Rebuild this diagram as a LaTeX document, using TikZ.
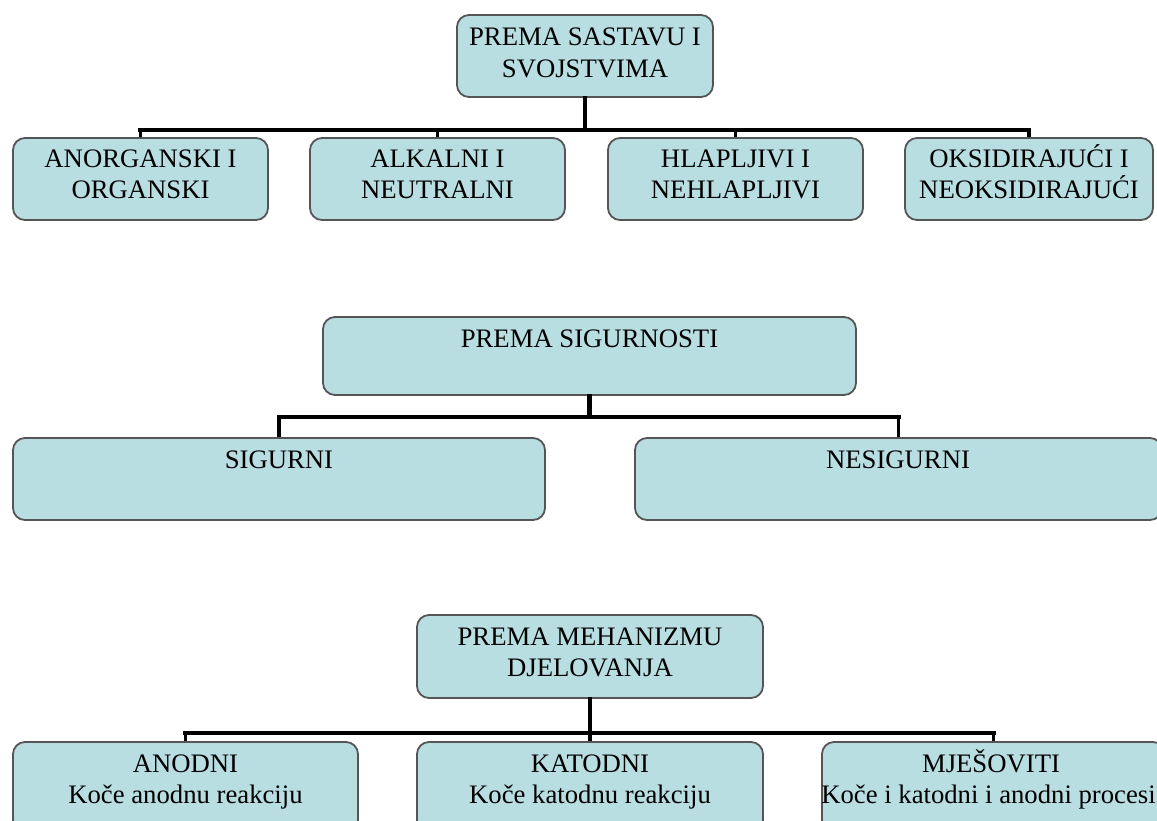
\documentclass[tikz,border=0pt]{standalone}
\usepackage{fontspec}
\setmainfont{Liberation Serif}
\usetikzlibrary{fit}
\definecolor{boxfill}{RGB}{184,222,226}
\definecolor{boxline}{RGB}{85,85,85}
\begin{document}
\begin{tikzpicture}[x=0.5pt,y=-0.5pt,
  box/.style={draw=boxline, line width=0.9pt, fill=boxfill, rounded corners=6pt, inner sep=0pt},
  txt/.style={anchor=base, inner sep=0pt, font=\fontsize{13.35pt}{15.5pt}\selectfont},
  bar/.style={line width=2.3pt, line cap=rect},
  stub/.style={line width=1.7pt}]
\useasboundingbox (0,0) rectangle (1157,820);
\clip (0,0) rectangle (1157,820);
\fill[white] (0,0) rectangle (1157,820);

% level coordinates
\coordinate (r1) at (0,130);
\coordinate (r2) at (0,417);
\coordinate (r3) at (0,733);

% ---------- group 1 ----------
\node[box, fit={(457,15) (713,97)}] (top) {};
\node[box, fit={(13,138) (268,220)}] (b1) {};
\node[box, fit={(310,138) (565,220)}] (b2) {};
\node[box, fit={(608,138) (863,220)}] (b3) {};
\node[box, fit={(905,138) (1153,220)}] (b4) {};

\node[txt] (topa) at (585,45) {PREMA SASTAVU I};
\node[txt] (topb) at (585,77) {SVOJSTVIMA};
\node[txt] (b1a) at (140.5,167) {ANORGANSKI I};
\node[txt] (b1b) at (140.5,198) {ORGANSKI};
\node[txt] (b2a) at (437.5,167) {ALKALNI I};
\node[txt] (b2b) at (437.5,198) {NEUTRALNI};
\node[txt] (b3a) at (735.5,167) {HLAPLJIVI I};
\node[txt] (b3b) at (735.5,198) {NEHLAPLJIVI};
\node[txt] (b4a) at (1029,167) {OKSIDIRAJUĆI I};
\node[txt] (b4b) at (1029,198) {NEOKSIDIRAJUĆI};

\draw[bar] (top.south) -- (top.south |- r1);
\draw[bar] (b1.north |- r1) -- (b4.north |- r1);
\foreach \n in {b1,b2,b3,b4} \draw[stub] (\n.north |- r1) -- (\n.north);

% ---------- group 2 ----------
\node[box, fit={(323,317) (856,395)}] (s) {};
\node[box, fit={(13,438) (545,520)}] (s1) {};
\node[box, fit={(635,438) (1162,520)}] (s2) {};

\node[txt] (sa) at (589.5,347) {PREMA SIGURNOSTI};
\node[txt] (s1a) at (279,468) {SIGURNI};
\node[txt] (s2a) at (898,468) {NESIGURNI};

\draw[bar] (s.south) -- (s.south |- r2);
\draw[bar] (s1.north |- r2) -- (s2.north |- r2);
\foreach \n in {s1,s2} \draw[stub] (\n.north |- r2) -- (\n.north);

% ---------- group 3 ----------
\node[box, fit={(417,615) (763,698)}] (m) {};
\node[box, fit={(13,742) (358,832)}] (m1) {};
\node[box, fit={(417,742) (763,832)}] (m2) {};
\node[box, fit={(822,742) (1165,832)}] (m3) {};

\node[txt] (ma) at (590,645) {PREMA MEHANIZMU};
\node[txt] (mb) at (590,676) {DJELOVANJA};
\node[txt] (m1a) at (185.5,772) {ANODNI};
\node[txt] (m1b) at (185.5,803) {Koče anodnu reakciju};
\node[txt] (m2a) at (590,772) {KATODNI};
\node[txt] (m2b) at (590,803) {Koče katodnu reakciju};
\node[txt] (m3a) at (991,772) {MJEŠOVITI};
\node[txt] (m3b) at (988.5,803) {Koče i katodni i anodni procesi};

\draw[bar] (m.south) -- (m.south |- r3);
\draw[bar] (m1.north |- r3) -- (m3.north |- r3);
\foreach \n in {m1,m2,m3} \draw[stub] (\n.north |- r3) -- (\n.north);
\end{tikzpicture}
\end{document}
